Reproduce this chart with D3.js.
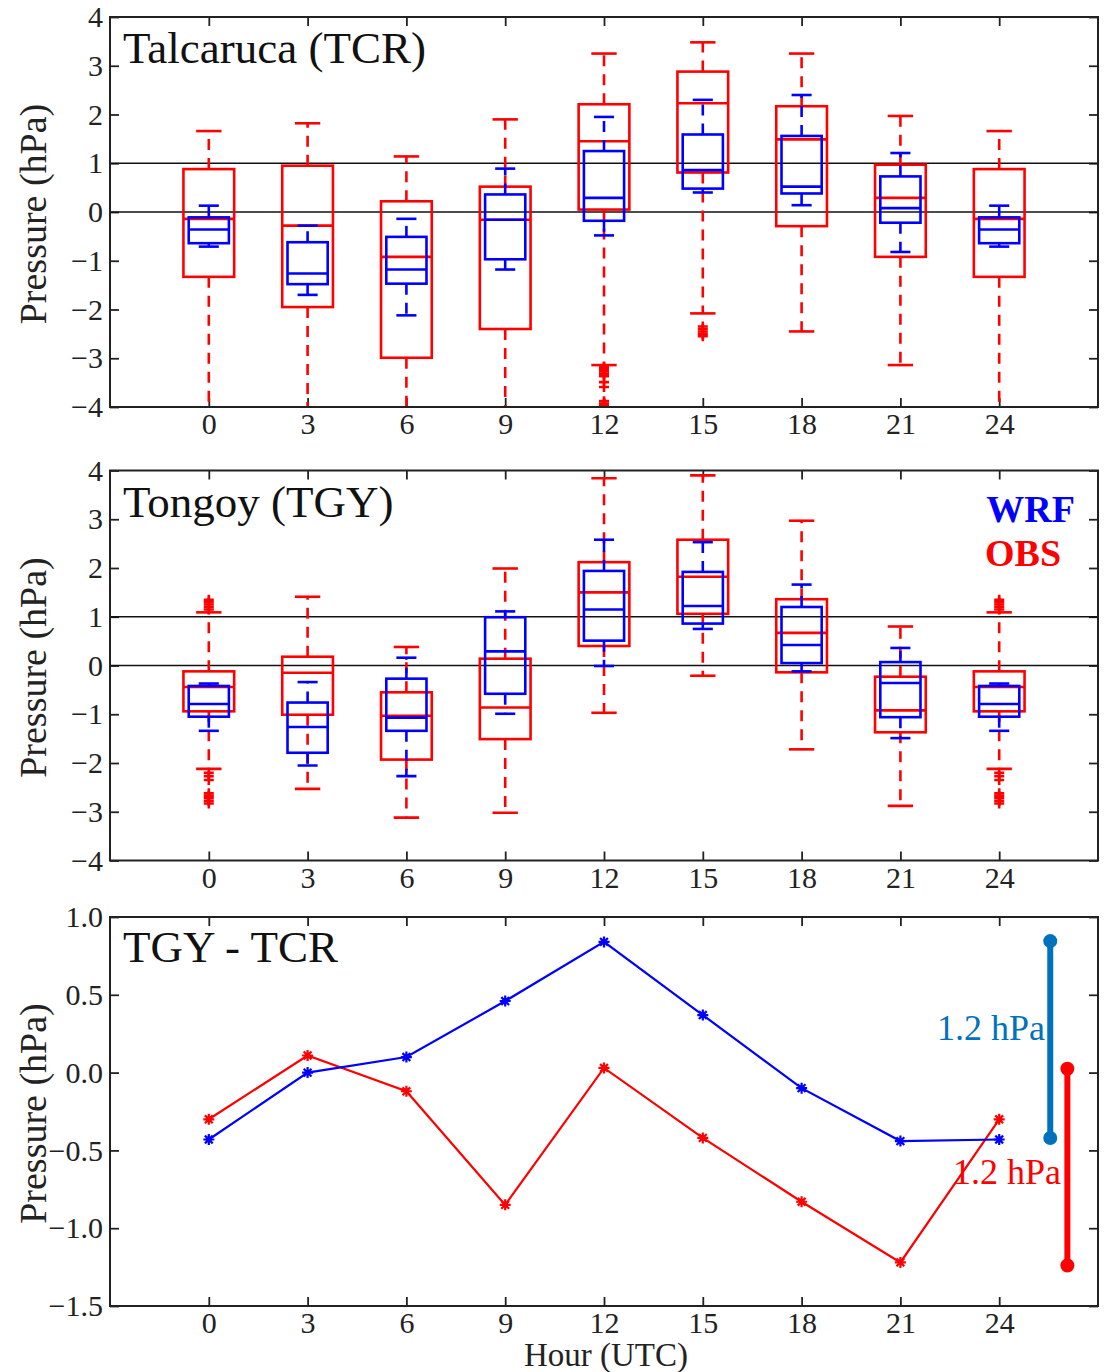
<!DOCTYPE html>
<html><head><meta charset="utf-8">
<script src="https://cdn.jsdelivr.net/npm/d3@7/dist/d3.min.js"></script>
<style>
html,body{margin:0;padding:0;background:#fff;}
text{font-family:"Liberation Serif","Times New Roman",serif;}
</style></head>
<body>
<svg id="chart" width="1110" height="1372"></svg>
<script>
// ---------- DATA ----------
const hours = [0, 3, 6, 9, 12, 15, 18, 21, 24];
const boxYTicks = [-4, -3, -2, -1, 0, 1, 2, 3, 4];
const diffYTicks = [-1.5, -1.0, -0.5, 0.0, 0.5, 1.0];

// box stats per hour: [lowerWhisker, q1, median, q3, upperWhisker]
const tcrObs = [
  [-4.3, -1.33, -0.14, 0.88, 1.66],
  [-4.3, -1.95, -0.28, 0.95, 1.82],
  [-4.3, -2.99, -0.92, 0.22, 1.14],
  [-4.3, -2.40, -0.16, 0.52, 1.90],
  [-3.14, 0.05, 1.45, 2.21, 3.25],
  [-2.08, 0.81, 2.23, 2.88, 3.48],
  [-2.45, -0.29, 1.49, 2.17, 3.25],
  [-3.14, -0.92, 0.29, 0.97, 1.97],
  [-4.3, -1.33, -0.14, 0.88, 1.66]
];
const tcrWrf = [
  [-0.71, -0.64, -0.36, -0.11, 0.13],
  [-1.70, -1.48, -1.26, -0.62, -0.28],
  [-2.12, -1.47, -1.18, -0.51, -0.14],
  [-1.18, -0.97, -0.16, 0.36, 0.89],
  [-0.48, -0.18, 0.29, 1.25, 1.95],
  [0.40, 0.48, 0.86, 1.59, 2.30],
  [0.14, 0.38, 0.52, 1.56, 2.40],
  [-0.82, -0.22, 0.08, 0.73, 1.21],
  [-0.71, -0.64, -0.36, -0.11, 0.13]
];
const tgyObs = [
  [-2.12, -0.94, -0.44, -0.12, 1.09],
  [-2.53, -1.01, -0.15, 0.18, 1.41],
  [-3.12, -1.93, -1.03, -0.55, 0.38],
  [-3.02, -1.51, -0.86, 0.14, 1.99],
  [-0.97, 0.40, 1.50, 2.12, 3.84],
  [-0.21, 1.06, 1.82, 2.58, 3.90],
  [-1.72, -0.14, 0.67, 1.36, 2.97],
  [-2.88, -1.37, -0.92, -0.23, 0.80],
  [-2.12, -0.94, -0.44, -0.12, 1.09]
];
const tgyWrf = [
  [-1.34, -1.05, -0.79, -0.42, -0.37],
  [-2.05, -1.79, -1.26, -0.76, -0.34],
  [-2.27, -1.34, -1.07, -0.27, 0.16],
  [-0.99, -0.58, 0.29, 0.99, 1.11],
  [-0.01, 0.51, 1.15, 1.94, 2.58],
  [0.75, 0.86, 1.22, 1.92, 2.53],
  [-0.12, 0.05, 0.42, 1.20, 1.66],
  [-1.49, -1.06, -0.36, 0.07, 0.36],
  [-1.34, -1.05, -0.79, -0.42, -0.37]
];
// outliers (OBS): [hour, value]
const tcrObsOutliers = [
  [12, -3.18], [12, -3.22], [12, -3.27], [12, -3.32], [12, -3.37], [12, -3.49], [12, -3.59], [12, -3.88], [12, -3.93], [12, -3.98],
  [15, -2.35], [15, -2.40], [15, -2.45], [15, -2.50], [15, -2.55]
];
const tgyObsOutliers = [
  [0, 1.15], [0, 1.20], [0, 1.25], [0, 1.30], [0, 1.35],
  [0, -2.20], [0, -2.27], [0, -2.35], [0, -2.62], [0, -2.67], [0, -2.72], [0, -2.78], [0, -2.83],
  [24, 1.15], [24, 1.20], [24, 1.25], [24, 1.30], [24, 1.35],
  [24, -2.20], [24, -2.27], [24, -2.35], [24, -2.62], [24, -2.67], [24, -2.72], [24, -2.78], [24, -2.83]
];
// TGY - TCR mean differences
const diffWrf = [-0.43, 0.00, 0.10, 0.46, 0.84, 0.37, -0.10, -0.44, -0.43];
const diffObs = [-0.30, 0.11, -0.12, -0.85, 0.03, -0.42, -0.83, -1.22, -0.30];
// amplitude bars [top, bottom]
const wrfRange = [0.845, -0.42];
const obsRange = [0.025, -1.24];

// ---------- LAYOUT ----------
const RED = "rgb(255,0,0)", BLUE = "rgb(0,0,255)", STEEL = "rgb(0,114,189)";
const SERIF = '"Liberation Serif", "Times New Roman", serif';
const svg = d3.select("#chart");
const x = d3.scaleLinear().domain([-3, 27]).range([110, 1098]);

function makePanel(top, bottom, domain, ticks, fmt, id) {
  const y = d3.scaleLinear().domain(domain).range([bottom, top]);
  const g = svg.append("g");
  g.append("clipPath").attr("id", id).append("rect")
    .attr("x", x.range()[0]).attr("y", top).attr("width", x.range()[1] - x.range()[0]).attr("height", bottom - top);
  const axes = g.append("g");
  axes.append("g").attr("transform", `translate(0,${bottom})`)
    .call(d3.axisBottom(x).tickValues(hours).tickSize(-9).tickPadding(6).tickFormat(d3.format("d")))
    .call(s => s.select(".domain").remove());
  axes.append("g").attr("transform", `translate(0,${top})`)
    .call(d3.axisTop(x).tickValues(hours).tickSize(-9).tickFormat(""))
    .call(s => s.select(".domain").remove());
  axes.append("g").attr("transform", `translate(${x.range()[0]},0)`)
    .call(d3.axisLeft(y).tickValues(ticks).tickSize(-9).tickPadding(7).tickFormat(fmt))
    .call(s => s.select(".domain").remove());
  axes.append("g").attr("transform", `translate(${x.range()[1]},0)`)
    .call(d3.axisRight(y).tickValues(ticks).tickSize(-9).tickFormat(""))
    .call(s => s.select(".domain").remove());
  axes.selectAll("g").attr("font-family", SERIF);
  axes.selectAll(".tick line").attr("stroke", "#222").attr("stroke-width", 1.8);
  axes.selectAll(".tick text").attr("fill", "#222").attr("font-size", 30)
    .style("font-family", SERIF);
  const plot = g.append("g").attr("clip-path", `url(#${id})`);
  g.append("rect").attr("x", x.range()[0]).attr("y", top)
    .attr("width", x.range()[1] - x.range()[0]).attr("height", bottom - top)
    .attr("fill", "none").attr("stroke", "#222").attr("stroke-width", 2);
  g.append("text").attr("transform", `translate(46,${(top + bottom) / 2 + 2}) rotate(-90)`)
    .attr("text-anchor", "middle").attr("font-size", 38).attr("fill", "#222").text("Pressure (hPa)");
  return { y, g, plot };
}

function drawBoxes(p, stats, color, widthH) {
  const w = x(widthH) - x(0);
  const cw = w / 2;
  stats.forEach((s, i) => {
    const cx = x(hours[i]);
    const [lo, q1, med, q3, hi] = s;
    const gg = p.plot.append("g").attr("stroke", color).attr("fill", "none").attr("stroke-width", 2.6);
    gg.append("line").attr("x1", cx).attr("x2", cx).attr("y1", p.y(q3)).attr("y2", p.y(hi)).attr("stroke-dasharray", "11,8");
    gg.append("line").attr("x1", cx).attr("x2", cx).attr("y1", p.y(q1)).attr("y2", p.y(lo)).attr("stroke-dasharray", "11,8");
    gg.append("line").attr("x1", cx - cw / 2).attr("x2", cx + cw / 2).attr("y1", p.y(hi)).attr("y2", p.y(hi));
    gg.append("line").attr("x1", cx - cw / 2).attr("x2", cx + cw / 2).attr("y1", p.y(lo)).attr("y2", p.y(lo));
    gg.append("rect").attr("x", cx - w / 2).attr("width", w).attr("y", p.y(q3)).attr("height", p.y(q1) - p.y(q3));
    gg.append("line").attr("x1", cx - w / 2).attr("x2", cx + w / 2).attr("y1", p.y(med)).attr("y2", p.y(med));
  });
}

function drawOutliers(p, pts, color) {
  const r = 5;
  p.plot.append("g").selectAll("path").data(pts).join("path")
    .attr("d", d => {
      const cx = x(d[0]), cy = p.y(d[1]);
      return `M${cx - r},${cy}H${cx + r}M${cx},${cy - r}V${cy + r}`;
    })
    .attr("stroke", color).attr("stroke-width", 2.6).attr("fill", "none");
}

function refLines(p) {
  [0, 1].forEach(v => {
    p.plot.append("line").attr("x1", x.range()[0]).attr("x2", x.range()[1])
      .attr("y1", p.y(v)).attr("y2", p.y(v)).attr("stroke", "#111").attr("stroke-width", 1.6);
  });
}

// ---------- PANEL 1 ----------
const p1 = makePanel(17, 407, [-4, 4], boxYTicks, d3.format("d"), "clip1");
refLines(p1);
drawBoxes(p1, tcrObs, RED, 1.54);
drawOutliers(p1, tcrObsOutliers, RED);
drawBoxes(p1, tcrWrf, BLUE, 1.22);
p1.g.append("text").attr("x", 123).attr("y", 63).attr("font-size", 45).attr("fill", "#111").text("Talcaruca (TCR)");

// ---------- PANEL 2 ----------
const p2 = makePanel(470.5, 860.5, [-4, 4], boxYTicks, d3.format("d"), "clip2");
refLines(p2);
drawBoxes(p2, tgyObs, RED, 1.54);
drawOutliers(p2, tgyObsOutliers, RED);
drawBoxes(p2, tgyWrf, BLUE, 1.22);
p2.g.append("text").attr("x", 123).attr("y", 517).attr("font-size", 45).attr("fill", "#111").text("Tongoy (TGY)");
p2.g.append("text").attr("x", 1075).attr("y", 522).attr("text-anchor", "end").attr("font-size", 38)
  .attr("font-weight", "bold").attr("fill", BLUE).text("WRF");
p2.g.append("text").attr("x", 985).attr("y", 566).attr("font-size", 38)
  .attr("font-weight", "bold").attr("fill", RED).text("OBS");

// ---------- PANEL 3 ----------
const p3 = makePanel(917, 1306, [-1.5, 1.0], diffYTicks, d3.format(".1f"), "clip3");
function star(cx, cy) {
  const r = 5.5, d = r * 0.707;
  return `M${cx - r},${cy}H${cx + r}M${cx},${cy - r}V${cy + r}M${cx - d},${cy - d}L${cx + d},${cy + d}M${cx - d},${cy + d}L${cx + d},${cy - d}`;
}
function drawSeries(vals, color) {
  const line = d3.line().x((d, i) => x(hours[i])).y(d => p3.y(d));
  p3.plot.append("path").datum(vals).attr("d", line).attr("fill", "none").attr("stroke", color).attr("stroke-width", 2.2);
  p3.plot.append("g").selectAll("path").data(vals).join("path")
    .attr("d", (d, i) => star(x(hours[i]), p3.y(d))).attr("stroke", color).attr("stroke-width", 2.2).attr("fill", "none");
}
drawSeries(diffObs, RED);
drawSeries(diffWrf, BLUE);

function rangeBar(hx, vals, color) {
  const cx = x(hx);
  p3.g.append("line").attr("x1", cx).attr("x2", cx).attr("y1", p3.y(vals[0])).attr("y2", p3.y(vals[1]))
    .attr("stroke", color).attr("stroke-width", 6);
  vals.forEach(v => p3.g.append("circle").attr("cx", cx).attr("cy", p3.y(v)).attr("r", 7).attr("fill", color));
}
rangeBar(25.55, wrfRange, STEEL);
rangeBar(26.07, obsRange, RED);
p3.g.append("text").attr("x", 1045).attr("y", 1040).attr("text-anchor", "end").attr("font-size", 36)
  .attr("fill", STEEL).text("1.2 hPa");
p3.g.append("text").attr("x", 1061).attr("y", 1184).attr("text-anchor", "end").attr("font-size", 36)
  .attr("fill", RED).text("1.2 hPa");
p3.g.append("text").attr("x", 123).attr("y", 962).attr("font-size", 45).attr("fill", "#111").text("TGY - TCR");
svg.append("text").attr("x", 606).attr("y", 1366).attr("text-anchor", "middle").attr("font-size", 33)
  .attr("fill", "#222").text("Hour (UTC)");
</script>
</body></html>
